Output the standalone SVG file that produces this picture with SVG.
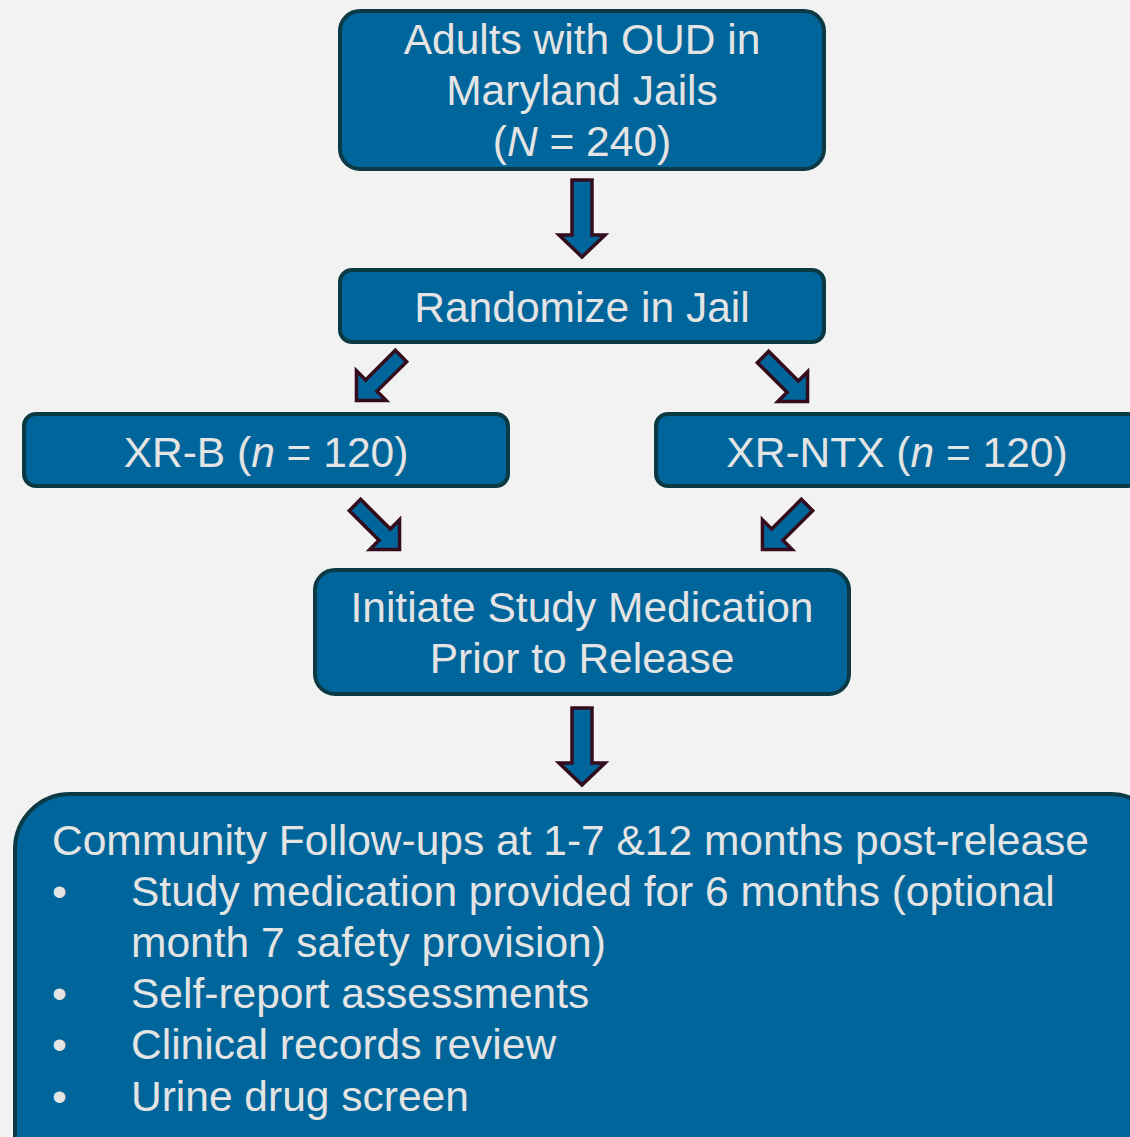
<svg xmlns="http://www.w3.org/2000/svg" width="1130" height="1137" viewBox="0 0 1130 1137">
<defs>
<style>
.box{fill:#00659a;stroke:#0b3a44;stroke-width:4}
.t{font-family:"Liberation Sans",Arial,sans-serif;font-size:42.5px;fill:#e4e4e4;text-anchor:middle}
.tl{font-family:"Liberation Sans",Arial,sans-serif;font-size:42.5px;fill:#e4e4e4}
.arr{fill:#00659a;stroke:#350b1e;stroke-width:3.5;stroke-linejoin:miter}
</style>
<path id="va" d="M-10,0 L10,0 L10,55 L23,55 L0,77 L-23,55 L-10,55 Z"/>
<path id="da" d="M-8,0 L8,0 L8,42 L21,42 L0,63 L-21,42 L-8,42 Z"/>
</defs>
<rect width="1130" height="1137" fill="#f2f2f2"/>
<g id="connectors">
<use href="#va" class="arr" transform="translate(582,180)"/>
<use href="#da" class="arr" transform="translate(401,356) rotate(45)"/>
<use href="#da" class="arr" transform="translate(763,357) rotate(-45)"/>
<use href="#da" class="arr" transform="translate(355,505) rotate(-45)"/>
<use href="#da" class="arr" transform="translate(807,505) rotate(45)"/>
<use href="#va" class="arr" transform="translate(582,708)"/>
</g>
<g id="node-adults">
<rect class="box" x="340" y="11" width="484" height="158" rx="20"/>
<text class="t" x="582" y="54">Adults with OUD in</text>
<text class="t" x="582" y="105">Maryland Jails</text>
<text class="t" x="582" y="156">(<tspan font-style="italic">N</tspan> = 240)</text>
</g>
<g id="node-randomize">
<rect class="box" x="340" y="270" width="484" height="72" rx="12"/>
<text class="t" x="582" y="322">Randomize in Jail</text>
</g>
<g id="node-xrb">
<rect class="box" x="24" y="414" width="484" height="72" rx="12"/>
<text class="t" x="266" y="467">XR-B (<tspan font-style="italic">n</tspan> = 120)</text>
</g>
<g id="node-xrntx">
<rect class="box" x="656" y="414" width="484" height="72" rx="12"/>
<text class="t" x="897" y="467">XR-NTX (<tspan font-style="italic">n</tspan> = 120)</text>
</g>
<g id="node-initiate">
<rect class="box" x="315" y="570" width="534" height="124" rx="20"/>
<text class="t" x="582" y="622">Initiate Study Medication</text>
<text class="t" x="582" y="673">Prior to Release</text>
</g>
<g id="node-followup">
<rect class="box" x="15" y="794" width="1150" height="400" rx="55"/>
<text class="tl" x="52" y="855">Community Follow-ups at 1-7 &amp;12 months post-release</text>
<text class="tl" x="52" y="906">•</text>
<text class="tl" x="131" y="906">Study medication provided for 6 months (optional</text>
<text class="tl" x="131" y="957">month 7 safety provision)</text>
<text class="tl" x="52" y="1008">•</text>
<text class="tl" x="131" y="1008">Self-report assessments</text>
<text class="tl" x="52" y="1059">•</text>
<text class="tl" x="131" y="1059">Clinical records review</text>
<text class="tl" x="52" y="1111">•</text>
<text class="tl" x="131" y="1111">Urine drug screen</text>
</g>
</svg>
